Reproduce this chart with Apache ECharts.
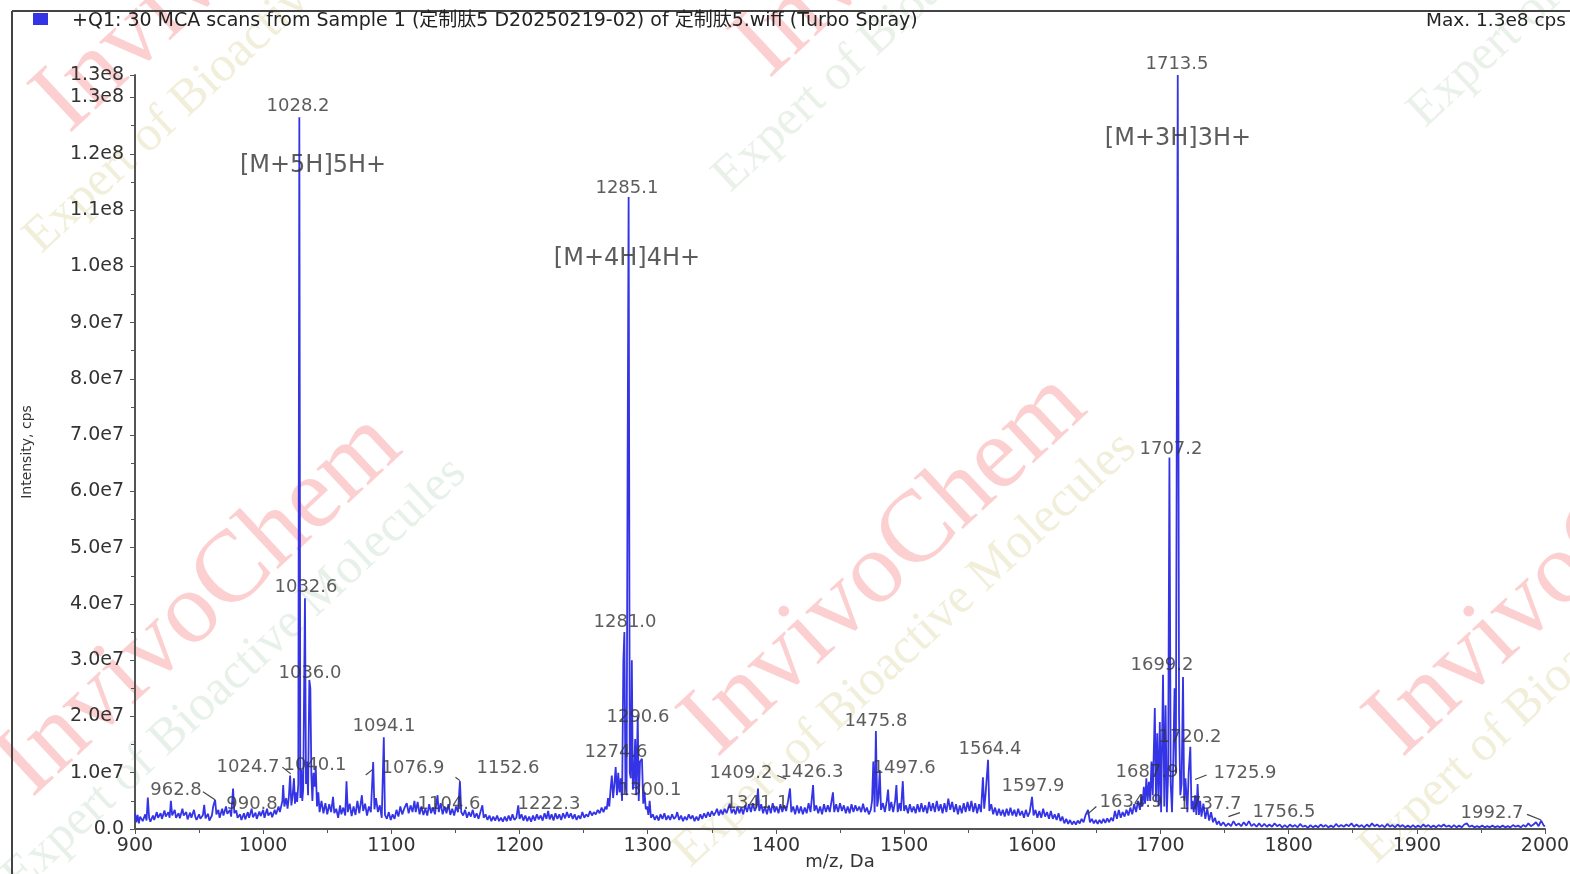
<!DOCTYPE html>
<html>
<head>
<meta charset="utf-8">
<script src="https://cdn.jsdelivr.net/npm/echarts@6/dist/echarts.min.js"></script>
<style>
html,body{margin:0;padding:0;background:#fff;}
#chart{width:1570px;height:874px;}
</style>
</head>
<body>
<div id="chart"></div>
<script>
// ---- data (m/z in Da, intensity in millions of cps) ----
const titleText = '+Q1: 30 MCA scans from Sample 1 (定制肽5 D20250219-02) of 定制肽5.wiff (Turbo Spray)';
const maxText = 'Max. 1.3e8 cps';
const xRange = [900, 2000];
const yMaxMillions = 134;

const spectrum = [
[900,2.8],[901,1.2],[902,2.5],[903,1.0],[904,2.2],[906,1.4],[908,2.6],[909,1.5],[910,5.6],[911,2.0],[912,1.3],[914,2.4],[915,1.6],[917,3.0],[918,2.0],[920,2.8],[921,1.8],[923,3.3],[924,2.2],[926,3.0],[927,2.0],[928,5.0],[929,2.4],[931,3.4],[932,2.0],[934,2.8],[935,1.9],[937,3.6],[938,2.4],[940,3.0],[941,1.7],[943,2.9],[944,2.0],[946,3.4],[947,2.2],[948,1.6],[950,2.6],[951,1.8],[953,2.5],[954,4.3],[955,1.9],[957,2.7],[958,1.5],[960,2.4],[961,4.0],[962.5,5.2],[963.5,2.6],[965,3.4],[966,2.0],[968,3.6],[969,2.4],[971,4.0],[972,2.7],[974,3.4],[975,2.2],[976.5,7.2],[977.5,2.8],[979,3.3],[980,2.0],[982,2.6],[983,1.6],[985,2.8],[986,1.7],[988,3.0],[989,2.0],[991,3.6],[992,2.1],[994,2.9],[995,1.8],[997,3.1],[998,2.3],[1000,3.4],[1001,2.0],[1003,3.6],[1004,2.4],[1006,3.0],[1007,2.1],[1009,3.4],[1010,2.6],[1012,4.0],[1013,3.0],[1015,5.0],[1015.6,7.8],[1016.5,4.0],[1018,5.5],[1019,3.6],[1020,5.6],[1021,9.5],[1022,4.2],[1023,6.0],[1024,9.0],[1024.8,4.5],[1025.5,6.5],[1026.5,4.8],[1027.4,8.0],[1028.2,126.5],[1029,5.5],[1029.8,10.5],[1030.5,5.0],[1031.2,7.0],[1032.6,41.0],[1033.4,8.0],[1034.2,12.0],[1035,6.0],[1036,26.5],[1036.8,25.0],[1037.6,9.5],[1038.4,5.0],[1039.2,10.0],[1040.1,7.5],[1041,11.0],[1042,4.0],[1043,6.5],[1044,3.0],[1045.5,5.0],[1047,2.8],[1048.5,4.6],[1050,2.6],[1051.5,4.4],[1053,3.0],[1054.5,5.7],[1055.5,2.8],[1057,3.6],[1058.5,2.0],[1060,4.2],[1061,2.6],[1062.5,3.8],[1064,2.4],[1065,8.5],[1066,3.0],[1067.5,4.5],[1069,2.3],[1070.5,4.0],[1072,2.5],[1073.5,5.0],[1075,2.8],[1077,6.0],[1078,3.2],[1079.5,4.5],[1081,2.4],[1082.5,4.0],[1084,3.0],[1085.8,11.9],[1086.8,3.5],[1088,5.5],[1089.5,3.0],[1091,4.2],[1092.5,2.0],[1094.1,16.3],[1095,2.5],[1096.5,1.8],[1098,3.0],[1099.5,1.6],[1101,2.6],[1102.5,1.8],[1104,3.4],[1105.5,2.2],[1107,4.0],[1108.5,2.6],[1110,3.6],[1112,4.6],[1113.5,2.8],[1115,4.2],[1116.5,3.0],[1118,5.0],[1119,3.0],[1120.5,4.8],[1122,2.6],[1123.5,4.0],[1125,2.5],[1126.5,3.6],[1128,2.4],[1129.5,4.4],[1131,2.8],[1132.5,3.8],[1134,2.6],[1136,6.0],[1137,3.0],[1138.5,4.6],[1140,2.6],[1141.5,4.0],[1143,2.8],[1144.5,4.4],[1146,2.5],[1147.5,3.6],[1149,2.4],[1150.5,4.0],[1152,3.0],[1153.5,8.5],[1154.5,3.0],[1156,2.4],[1157.5,3.4],[1159,2.0],[1160.5,3.0],[1162,2.2],[1163.5,3.4],[1165,2.0],[1166.5,2.8],[1168,1.8],[1169.5,3.0],[1171,4.2],[1172,2.0],[1173.5,2.6],[1175,1.6],[1176.5,2.4],[1178,1.4],[1179.5,2.2],[1181,1.5],[1182.5,2.4],[1184,1.4],[1185.5,2.0],[1187,1.3],[1188.5,2.2],[1190,1.4],[1191.5,2.4],[1193,1.5],[1194.5,2.6],[1196,1.6],[1197.5,2.0],[1199,4.2],[1200,1.8],[1201.5,2.6],[1203,1.5],[1204.5,2.4],[1206,1.4],[1207.5,2.2],[1209,1.3],[1210.5,2.4],[1212,1.5],[1213.5,2.6],[1215,1.7],[1216.5,2.4],[1218,1.5],[1219.5,2.8],[1221,1.8],[1222.3,3.2],[1223.5,1.7],[1225,2.6],[1226.5,1.5],[1228,2.8],[1229.5,1.8],[1231,2.6],[1232.5,1.6],[1234,2.8],[1235.5,1.9],[1237,3.0],[1238.5,2.0],[1240,2.8],[1241.5,1.8],[1243,2.6],[1244.5,1.6],[1246,2.4],[1247.5,1.8],[1249,3.0],[1250.5,2.0],[1252,2.6],[1253.5,2.2],[1255,3.2],[1256.5,2.4],[1258,3.0],[1259.5,2.6],[1261,3.4],[1262.5,2.8],[1264,3.8],[1265.5,3.0],[1267,4.0],[1268,3.5],[1269,5.5],[1270,4.0],[1271,7.0],[1272,9.5],[1273,5.5],[1274,8.0],[1275,11.0],[1276,6.0],[1277,10.0],[1278,6.5],[1279,9.0],[1280,5.0],[1281,30.0],[1281.8,35.0],[1282.6,8.0],[1283.5,6.0],[1284.3,65.0],[1285.1,112.3],[1286,10.0],[1286.8,9.0],[1287.6,30.0],[1288.4,7.0],[1289.2,8.0],[1290.2,16.0],[1291,6.0],[1292.2,20.0],[1293,5.0],[1294,12.0],[1295.5,12.5],[1296.5,4.5],[1297.5,6.5],[1298.5,3.5],[1299.5,4.0],[1300.5,2.5],[1301.5,5.0],[1302.5,2.0],[1304,2.6],[1305.5,1.6],[1307,2.4],[1308.5,1.5],[1310,2.6],[1311.5,1.8],[1313,2.8],[1314.5,1.6],[1316,2.4],[1317.5,1.6],[1319,2.6],[1320.5,1.8],[1322,2.2],[1323,3.0],[1324.5,1.6],[1326,2.4],[1327.5,1.4],[1329,2.2],[1330.5,1.6],[1332,2.6],[1333.5,1.8],[1335,2.4],[1336.5,1.4],[1338,2.2],[1339.5,1.5],[1341,2.6],[1342.5,1.8],[1344,2.8],[1345.5,2.0],[1347,3.0],[1348.5,2.2],[1350,3.2],[1351.5,2.4],[1353,3.0],[1354,3.6],[1355.5,2.4],[1357,3.4],[1358.5,2.6],[1360,3.6],[1361.5,2.8],[1363,3.8],[1364,4.5],[1365.5,2.8],[1367,3.6],[1368.5,2.6],[1370,4.0],[1371.5,2.8],[1373,3.8],[1374.5,2.6],[1376,4.2],[1377.5,3.0],[1379,4.4],[1380.5,3.0],[1382,4.6],[1383.5,3.2],[1385,4.0],[1386,7.2],[1387,3.2],[1388.5,4.4],[1390,2.8],[1391.5,4.0],[1393,2.6],[1394.5,4.2],[1396,2.8],[1397.5,4.6],[1399,3.0],[1400.5,4.0],[1402,2.8],[1403.5,4.4],[1405,3.0],[1406.5,4.2],[1408,3.2],[1409.5,5.0],[1411,7.2],[1412,3.0],[1413.5,4.0],[1415,2.6],[1416.5,4.2],[1418,2.8],[1419.5,4.0],[1421,2.6],[1422.5,3.8],[1424,2.8],[1425.5,4.6],[1427,3.0],[1429,7.8],[1430,3.2],[1431.5,4.2],[1433,2.8],[1434.5,4.0],[1436,2.6],[1437.5,4.4],[1439,3.0],[1440.5,4.2],[1442,3.0],[1444.5,6.5],[1445.5,3.0],[1447,4.4],[1448.5,3.0],[1450,4.6],[1451.5,3.2],[1453,4.2],[1454.5,2.8],[1456,4.0],[1457.5,2.8],[1459,4.4],[1460.5,3.0],[1462,4.2],[1463.5,3.2],[1465,4.0],[1466.5,3.0],[1468,4.5],[1469.5,3.0],[1471,3.8],[1472.5,2.6],[1474,3.4],[1475,5.0],[1476,12.0],[1477,3.0],[1478,17.4],[1479,4.0],[1480,5.5],[1481,10.5],[1482,3.4],[1483.5,4.6],[1485,3.0],[1486.5,5.0],[1487.5,7.0],[1488.5,3.2],[1490,4.8],[1491.5,3.0],[1493,5.0],[1494,7.8],[1495,3.0],[1496.5,4.6],[1497.5,3.2],[1499,8.5],[1500,3.2],[1501.5,4.2],[1503,2.8],[1504.5,4.4],[1506,3.0],[1507.5,4.0],[1509,2.8],[1510.5,4.4],[1512,3.0],[1513.5,4.6],[1515,3.0],[1516.5,4.2],[1518,2.8],[1519.5,4.8],[1521,3.2],[1522.5,4.6],[1524,3.0],[1525.5,5.0],[1527,3.2],[1528.5,4.4],[1530,2.8],[1531.5,4.6],[1533,3.0],[1534.5,5.4],[1536,3.4],[1537.5,4.8],[1539,3.0],[1540.5,4.4],[1542,2.6],[1543.5,4.2],[1545,2.8],[1546.5,4.6],[1548,3.0],[1549.5,4.8],[1551,3.2],[1552.5,5.0],[1554,3.0],[1555.5,4.6],[1557,2.8],[1558.5,4.4],[1560,3.0],[1561.5,9.2],[1562.5,3.6],[1563.5,6.0],[1565.5,12.3],[1566.5,3.2],[1568,4.4],[1569.5,2.6],[1571,3.8],[1572.5,2.4],[1574,3.6],[1575.5,2.4],[1577,3.4],[1578.5,2.2],[1580,3.6],[1581.5,2.4],[1583,3.8],[1584.5,2.4],[1586,3.4],[1587.5,2.2],[1589,3.6],[1590.5,2.4],[1592,3.2],[1593.5,2.0],[1595,3.4],[1596.5,2.2],[1598,3.0],[1599.8,5.7],[1601,2.4],[1602.5,3.4],[1604,2.0],[1605.5,3.2],[1607,2.0],[1608.5,3.6],[1610,2.2],[1611.5,3.0],[1613,1.8],[1614.5,3.2],[1616,1.8],[1617.5,2.6],[1619,1.6],[1620.5,2.8],[1622,1.4],[1623.5,2.2],[1625,1.0],[1626.5,1.8],[1628,0.9],[1629.5,1.6],[1631,0.8],[1632.5,1.4],[1634,0.8],[1635.5,1.5],[1637,1.0],[1638.5,1.8],[1640,1.2],[1641.5,2.4],[1643.5,3.4],[1645,1.2],[1646.5,1.8],[1648,1.0],[1649.5,1.6],[1651,0.9],[1652.5,1.6],[1654,1.0],[1655.5,1.8],[1657,1.1],[1658.5,1.9],[1660,1.2],[1661.5,2.0],[1663,1.4],[1664.5,3.2],[1666,1.8],[1667.5,3.4],[1669,2.0],[1670.5,3.0],[1672,2.2],[1673.5,3.4],[1675,2.4],[1676.5,3.8],[1678,2.6],[1679.5,4.4],[1681,3.0],[1682.5,5.0],[1684,3.4],[1685,6.0],[1686,4.0],[1687,7.5],[1688,4.5],[1689,9.0],[1690,5.0],[1691,8.4],[1692,5.0],[1693,12.0],[1694,6.0],[1695.6,21.5],[1696.5,5.0],[1697.5,17.0],[1698.5,4.0],[1699.5,19.0],[1700.5,3.0],[1702,27.4],[1703,4.0],[1704,22.0],[1705,3.0],[1706,10.0],[1707,66.0],[1708,8.0],[1709,3.0],[1710,12.0],[1711,25.0],[1712,10.0],[1713.5,134.0],[1714.5,20.0],[1715.5,6.0],[1716.5,8.0],[1717.6,27.0],[1718.5,5.0],[1719.5,9.0],[1721,3.0],[1722,10.0],[1723.3,14.6],[1724.2,3.5],[1725,5.0],[1726,3.0],[1727,6.0],[1728,2.5],[1729,8.0],[1730,2.5],[1731,5.0],[1732,2.2],[1733.5,4.5],[1735,1.8],[1736.5,3.6],[1738,1.5],[1739.5,3.0],[1741,1.2],[1742.5,2.0],[1744,0.8],[1745.5,1.4],[1747,0.6],[1749,1.2],[1751,0.5],
[1753,1.0],[1755,0.5],[1757,1.4],[1759,0.6],[1761,1.0],[1763,0.5],[1765,1.2],[1767,0.6],[1769,1.4],[1771,0.5],[1773,0.9],[1775,0.4],[1777,1.0],[1779,0.4],[1781,0.9],[1783,0.4],[1785,0.8],[1787,0.4],[1789,1.0],[1791,0.5],[1793,0.8],[1795,0.3],[1797,0.7],[1799,0.3],[1801,0.8],[1803,0.4],[1805,0.7],[1807,0.3],[1809,0.9],[1811,0.4],[1813,0.6],[1815,0.2],[1817,0.7],[1819,0.3],[1821,0.6],[1823,0.3],[1825,0.8],[1827,0.4],[1829,0.7],[1831,0.3],[1833,0.6],[1835,0.3],[1837,0.9],[1839,0.4],[1841,0.7],[1843,0.4],[1845,0.8],[1847,0.5],[1849,1.0],[1851,0.4],[1853,0.8],[1855,0.4],[1857,0.7],[1859,0.3],[1861,0.8],[1863,0.4],[1865,1.0],[1867,0.5],[1869,0.8],[1871,0.4],[1873,0.7],[1875,0.3],[1877,0.9],[1879,0.4],[1881,0.7],[1883,0.3],[1885,0.8],[1887,0.4],[1889,0.7],[1891,0.3],[1893,0.6],[1895,0.3],[1897,0.7],[1899,0.3],[1901,0.6],[1903,0.3],[1905,0.8],[1907,0.4],[1909,0.7],[1911,0.3],[1913,0.6],[1915,0.3],[1917,0.7],[1919,0.4],[1921,0.8],[1923,0.4],[1925,0.6],[1927,0.3],[1929,0.7],[1931,0.3],[1933,0.6],[1935,0.3],[1937,0.8],[1939,1.0],[1941,0.4],[1943,0.6],[1945,0.3],[1947,0.5],[1949,0.3],[1951,0.6],[1953,0.3],[1955,0.5],[1957,0.3],[1959,0.6],[1961,0.3],[1963,0.5],[1965,0.3],[1967,0.6],[1969,0.3],[1971,0.5],[1973,0.3],[1975,0.7],[1977,0.4],[1979,0.6],[1981,0.3],[1983,0.7],[1985,0.4],[1987,1.0],[1989,0.5],[1991,0.8],[1993,1.2],[1995,0.5],[1997,1.5],[1999,0.6],[2000,0.5]
];

// peak m/z labels: [text, m/z anchor, intensity anchor]
const peakLabels = [
['1028.2',1027.2,128.4],['1285.1',1283.8,113.9],['1713.5',1712.9,135.9],['1707.2',1708.2,67.5],
['1032.6',1033.4,43.0],['1036.0',1036.5,27.7],['1094.1',1094.3,18.3],['1024.7',988.2,11.0],
['1040.1',1040.4,11.4],['1076.9',1116.9,10.7],['962.8',932.0,6.9],['990.8',991.3,4.3],
['1152.6',1191.0,10.7],['1104.6',1145.0,4.3],['1222.3',1223.0,4.4],['1274.6',1275.3,13.7],
['1281.0',1282.3,36.8],['1290.6',1292.4,19.9],['1300.1',1301.8,6.9],['1409.2',1372.8,9.9],
['1426.3',1428.2,10.1],['1341.1',1385.3,4.6],['1475.8',1478.0,19.2],['1497.6',1500.0,10.7],
['1564.4',1567.0,14.2],['1597.9',1600.6,7.5],['1634.9',1677.0,4.8],['1687.9',1689.5,10.1],
['1699.2',1701.2,29.1],['1720.2',1723.0,16.3],['1725.9',1766.0,9.9],['1737.7',1738.7,4.3],
['1756.5',1796.4,3.0],['1992.7',1958.7,2.8]
];
// leader lines from a label to its peak: [m/z start, I start, m/z end, I end]
const leaderLines = [
[953,6.6,962.4,5.2],[1015,11.0,1021.5,9.8],[1080,9.6,1085.5,10.6],[1150,9.2,1153.5,8.6],
[1401,9.5,1408,8.9],[1727,8.8,1736,9.6],[1753,2.2,1762,2.9],[1643,2.6,1650,4.0],[1986,2.6,1997,1.6]
];
// ion annotations
const ionLabels = [
['[M+5H]5H+',1038.9,117.9],['[M+4H]4H+',1283.8,101.4],['[M+3H]3H+',1713.7,122.6]
];
// watermark texts: [text, centre x px, centre y px, angle deg, size px, colour]
const watermarks = [
['InvivoChem',885,565,43,102,'rgba(245,100,100,0.30)'],
['InvivoChem',200,605,43,102,'rgba(245,100,100,0.30)'],
['InvivoChem',1570,565,43,102,'rgba(245,100,100,0.30)'],
['InvivoChem',237,-59,43,102,'rgba(245,100,100,0.30)'],
['InvivoChem',937,-114,43,102,'rgba(245,100,100,0.30)'],
['Expert of Bioactive Molecules',905,650,43,50,'rgba(205,195,120,0.28)'],
['Expert of Bioactive Molecules',235,675,43,50,'rgba(170,205,175,0.28)'],
['Expert of Bioactive Molecules',256,36,43,50,'rgba(205,195,120,0.28)'],
['Expert of Bioactive Molecules',945,-25,43,50,'rgba(175,205,175,0.28)'],
['Expert of Bioactive Molecules',1640,-90,43,50,'rgba(175,205,175,0.28)'],
['Expert of Bioactive Molecules',1591,646,43,50,'rgba(205,195,120,0.28)']
];

const fontFamily = '"DejaVu Sans", Verdana, sans-serif';
const chart = echarts.init(document.getElementById('chart'), null, {renderer:'canvas'});

function yFmt(v){
  if (v === 0) return '0.0';
  return (v*1e6).toExponential(1).replace('+','');
}

const wmGraphics = watermarks.map(w => ({
  type:'text', x:w[1], y:w[2], rotation:w[3]*Math.PI/180, z:-10, silent:true,
  style:{text:w[0], fill:w[5], align:'center', verticalAlign:'middle',
         font:w[4]+'px "Liberation Serif", "DejaVu Serif", serif'}
}));

chart.setOption({
  animation:false,
  backgroundColor:'#fff',
  grid:{left:135, right:25, top:75, bottom:45, containLabel:false, outerBoundsMode:'none'},
  xAxis:{
    type:'value', min:xRange[0], max:xRange[1], interval:100,
    axisLine:{show:true, lineStyle:{color:'#555', width:2}},
    axisTick:{show:true, length:5, lineStyle:{color:'#555'}},
    minorTick:{show:true, splitNumber:2, length:4, lineStyle:{color:'#555'}},
    splitLine:{show:false},
    axisLabel:{color:'#333', fontSize:19, fontFamily, margin:8, formatter:v=>String(v)},
    name:'m/z, Da', nameLocation:'middle', nameGap:24, nameMoveOverlap:false,
    nameTextStyle:{color:'#333', fontSize:18, fontFamily}
  },
  yAxis:{
    type:'value', min:0, max:yMaxMillions, interval:10,
    axisLine:{show:true, lineStyle:{color:'#555', width:2}},
    axisTick:{show:true, length:5, lineStyle:{color:'#555'}},
    minorTick:{show:true, splitNumber:2, length:4, lineStyle:{color:'#555'}},
    splitLine:{show:false},
    axisLabel:{color:'#333', fontSize:19, fontFamily, margin:11, formatter:yFmt, showMaxLabel:true},
    name:'Intensity, cps', nameLocation:'middle', nameGap:101, nameMoveOverlap:false,
    nameTextStyle:{color:'#333', fontSize:14, fontFamily}
  },
  series:[
    {
      type:'line', data:spectrum, showSymbol:false, symbol:'none',
      lineStyle:{color:'#3434e6', width:1.8}, clip:true, z:2,
      markLine:{
        silent:true, symbol:'none', label:{show:false},
        lineStyle:{color:'#444', width:1.2, type:'solid'},
        data:leaderLines.map(l=>[{coord:[l[0],l[1]]},{coord:[l[2],l[3]]}])
      }
    },
    {
      type:'scatter', symbolSize:0, clip:false, z:5, silent:true,
      data:peakLabels.map(p=>({name:p[0], value:[p[1],p[2]]})),
      label:{show:true, position:'inside', formatter:'{b}', color:'#333', fontSize:18, fontFamily}
    },
    {
      type:'scatter', symbolSize:0, clip:false, z:5, silent:true,
      data:ionLabels.map(p=>({name:p[0], value:[p[1],p[2]]})),
      label:{show:true, position:'inside', formatter:'{b}', color:'#333', fontSize:24, fontFamily}
    }
  ],
  graphic:wmGraphics.concat([
    {type:'line', shape:{x1:12, y1:11, x2:1570, y2:11}, style:{stroke:'#444', lineWidth:2}},
    {type:'line', shape:{x1:12, y1:11, x2:12, y2:874}, style:{stroke:'#444', lineWidth:2}},
    {type:'rect', shape:{x:33, y:13, width:15, height:12}, style:{fill:'#3434e6'}},
    {type:'text', left:72, top:12, style:{text:titleText, fill:'#222', font:'19px "DejaVu Sans", "Noto Sans CJK SC", sans-serif'}},
    {type:'text', right:4, top:12, style:{text:maxText, fill:'#222', font:'18.5px "DejaVu Sans", sans-serif'}}
  ])
});
</script>
</body>
</html>
